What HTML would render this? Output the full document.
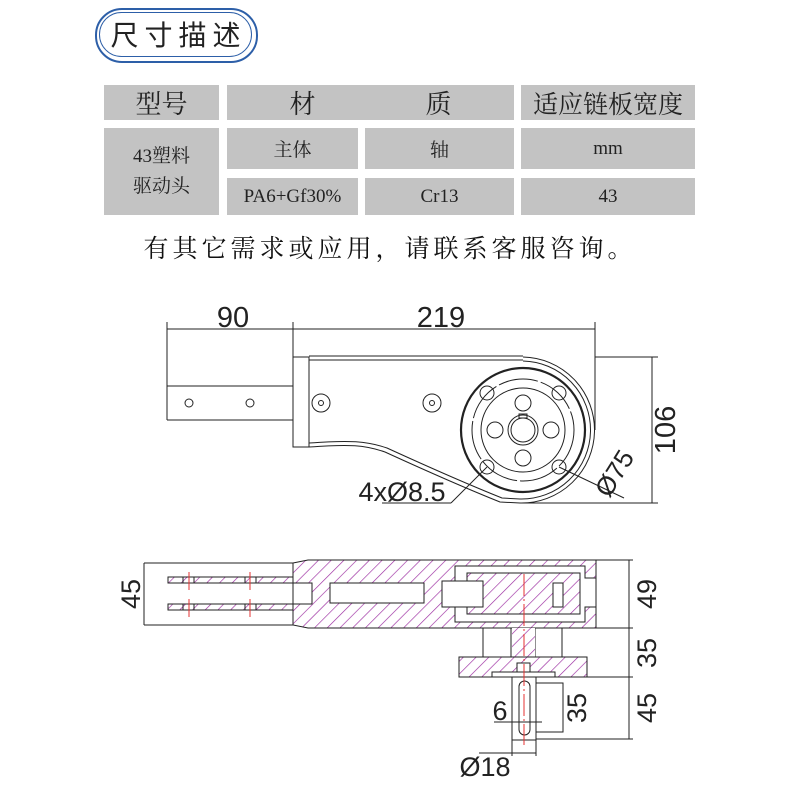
<!DOCTYPE html>
<html><head><meta charset="utf-8"><style>
html,body{margin:0;padding:0;background:#fff;}
body{width:790px;height:803px;position:relative;overflow:hidden;font-family:"Liberation Serif","Noto Serif CJK SC",serif;}
.badge{position:absolute;left:95px;top:8px;width:159px;height:51px;border:2px solid #2d5fa8;border-radius:27px;}
.badge2{position:absolute;left:99px;top:12px;width:151px;height:43px;border:1.5px solid #2d5fa8;border-radius:23px;}
.bt{position:absolute;left:97px;top:8px;width:163px;height:55px;line-height:55px;text-align:center;font-family:"Liberation Sans","Noto Sans CJK SC",sans-serif;font-size:28px;letter-spacing:6px;color:#222;}
.c{position:absolute;background:#c3c3c3;color:#222;text-align:center;display:flex;align-items:center;justify-content:center;}
.h{font-size:26px;font-family:"Liberation Serif","Noto Serif CJK SC",serif;}
.d{font-size:19px;}
.s{position:absolute;left:140px;top:229px;width:500px;text-align:center;font-size:25px;color:#111;font-family:"Liberation Serif","Noto Serif CJK SC",serif;letter-spacing:4px;white-space:nowrap;}
svg{position:absolute;left:0;top:0;}
</style></head><body>
<div class="badge"></div><div class="badge2"></div>
<div class="bt">尺寸描述</div>
<div class="c h" style="left:104px;top:85px;width:115px;height:35px;">型号</div>
<div class="c h" style="left:227px;top:85px;width:287px;height:35px;"><span style="margin-right:110px">材</span><span>质</span></div>
<div class="c h" style="left:521px;top:85px;width:174px;height:35px;font-size:25px;">适应链板宽度</div>
<div class="c d" style="left:104px;top:128px;width:115px;height:87px;line-height:30px;">43塑料<br>驱动头</div>
<div class="c d" style="left:227px;top:128px;width:131px;height:41px;">主体</div>
<div class="c d" style="left:365px;top:128px;width:149px;height:41px;">轴</div>
<div class="c d" style="left:521px;top:128px;width:174px;height:41px;">mm</div>
<div class="c d" style="left:227px;top:178px;width:131px;height:37px;">PA6+Gf30%</div>
<div class="c d" style="left:365px;top:178px;width:149px;height:37px;">Cr13</div>
<div class="c d" style="left:521px;top:178px;width:174px;height:37px;">43</div>
<div class="s">有其它需求或应用，请联系客服咨询。</div>

<svg width="790" height="803" viewBox="0 0 790 803" font-family="Liberation Sans, sans-serif">
<defs>
<pattern id="hat" width="9" height="9" patternUnits="userSpaceOnUse" patternTransform="rotate(45)">
<rect width="9" height="9" fill="#fff"/><line x1="0" y1="0" x2="0" y2="9" stroke="#9a2aa0" stroke-width="1.3"/>
</pattern>
</defs>
<g stroke="#222" stroke-width="1" fill="none">
<line x1="167" y1="329" x2="595" y2="329"/>
<line x1="167" y1="322" x2="167" y2="420"/>
<line x1="293" y1="322" x2="293" y2="357"/>
<line x1="595" y1="322" x2="595" y2="430"/>
<line x1="167" y1="386" x2="293" y2="386"/>
<line x1="167" y1="420" x2="293" y2="420"/>
<circle cx="189" cy="403" r="4"/><circle cx="250" cy="403" r="4"/>
<rect x="293" y="357" width="16" height="90"/>
<line x1="309" y1="356" x2="523" y2="356"/>
<line x1="309" y1="360" x2="523" y2="360"/>
<circle cx="321" cy="403" r="9"/><circle cx="321" cy="403" r="2.5"/>
<circle cx="432" cy="403" r="9"/><circle cx="432" cy="403" r="2.5"/>
<path d="M523,357 A73,73 0 1 1 520,503 L500,502 C470,490 420,468 385,452 C365,445 350,444 309,447"/>
<path d="M523,361 A69,69 0 1 1 520,499 L502,498 C472,486 422,464 387,448 C367,441 350,440 309,443"/>
<circle cx="523" cy="430" r="62" stroke-width="2.2"/>
<circle cx="523" cy="430" r="51" stroke-dasharray="40 3"/>
<circle cx="523" cy="430" r="42"/>
<circle cx="523" cy="430" r="15"/><circle cx="523" cy="430" r="12"/>
<rect x="519" y="414" width="8" height="4"/>
<circle cx="487" cy="393" r="7"/><circle cx="559" cy="393" r="7"/>
<circle cx="487" cy="467" r="7"/><circle cx="559" cy="467" r="7"/>
<circle cx="523" cy="403" r="8"/><circle cx="495" cy="430" r="8"/>
<circle cx="551" cy="430" r="8"/><circle cx="523" cy="458" r="8"/>
<line x1="595" y1="357" x2="658" y2="357"/>
<line x1="520" y1="503" x2="658" y2="503"/>
<line x1="652" y1="357" x2="652" y2="503"/>
<line x1="559" y1="467" x2="624" y2="498"/>
<line x1="487" y1="467" x2="451" y2="503"/>
<line x1="451" y1="503" x2="382" y2="503"/>
</g>
<g fill="#222" font-size="29">
<text x="233" y="327" text-anchor="middle">90</text>
<text x="441" y="327" text-anchor="middle">219</text>
<text x="0" y="0" text-anchor="middle" transform="translate(675,430) rotate(-90)">106</text>
<text x="0" y="0" text-anchor="middle" transform="translate(622,478) rotate(-58)" font-size="26">Ø75</text>
<text x="402" y="501" text-anchor="middle" font-size="27">4xØ8.5</text>
</g>

<g stroke="#222" stroke-width="1">
<path fill="url(#hat)" fill-rule="evenodd" d="M293,563 L308,560 L596,560 L596,628 L308,628 L293,625 Z
 M293,583 L312,583 L312,604 L293,604 Z
 M330,583 L424,583 L424,603 L330,603 Z
 M455,566 L585,566 L585,578 L596,578 L596,607 L585,607 L585,622 L455,622 Z"/>
<rect x="168" y="577" width="125" height="6" fill="url(#hat)"/>
<rect x="168" y="604" width="125" height="6" fill="url(#hat)"/>
<path fill="url(#hat)" fill-rule="evenodd" d="M467,573 L580,573 L580,614 L467,614 Z M442,581 L483,581 L483,607 L442,607 Z M553,583 L563,583 L563,607 L553,607 Z"/>
<rect x="442" y="581" width="41" height="26" fill="#fff"/>
<rect x="553" y="583" width="10" height="24" fill="#fff"/>
<line x1="144" y1="563" x2="293" y2="563"/>
<line x1="144" y1="625" x2="293" y2="625"/>
<line x1="144" y1="563" x2="144" y2="625"/>
<line x1="183" y1="577" x2="183" y2="583"/><line x1="194" y1="577" x2="194" y2="583"/>
<line x1="245" y1="577" x2="245" y2="583"/><line x1="256" y1="577" x2="256" y2="583"/>
<line x1="183" y1="604" x2="183" y2="610"/><line x1="194" y1="604" x2="194" y2="610"/>
<line x1="245" y1="604" x2="245" y2="610"/><line x1="256" y1="604" x2="256" y2="610"/>
<rect x="483" y="628" width="79" height="29" fill="#fff"/>
<line x1="511" y1="628" x2="511" y2="657"/><line x1="535" y1="628" x2="535" y2="657"/>
<rect x="512" y="628" width="23" height="29" fill="url(#hat)" stroke="none"/>
<path fill="url(#hat)" fill-rule="evenodd" d="M459,657 L587,657 L587,677 L459,677 Z M492,672 L555,672 L555,677 L492,677 Z"/>
<rect x="517" y="663" width="13" height="9" fill="#fff"/>
<rect x="512" y="677" width="24" height="63" fill="#fff"/>
<rect x="519" y="681" width="11" height="54" rx="5.5" fill="#fff"/>
<rect x="536" y="683" width="27" height="49" fill="none"/>
<g fill="none">
<line x1="596" y1="560" x2="633" y2="560"/>
<line x1="596" y1="628" x2="633" y2="628"/>
<line x1="587" y1="677" x2="633" y2="677"/>
<line x1="536" y1="739" x2="633" y2="739"/>
<line x1="629" y1="560" x2="629" y2="739"/>
<line x1="494" y1="722" x2="542" y2="722"/>
<line x1="512" y1="740" x2="512" y2="756"/>
<line x1="536" y1="740" x2="536" y2="756"/>
<line x1="479" y1="753" x2="536" y2="753"/>
</g>
</g>
<g stroke="#e53030" stroke-width="1">
<line x1="524" y1="574" x2="524" y2="745" stroke-dasharray="22 3 2 3"/>
<line x1="189" y1="572" x2="189" y2="590"/><line x1="189" y1="599" x2="189" y2="617"/>
<line x1="250" y1="572" x2="250" y2="590"/><line x1="250" y1="599" x2="250" y2="617"/>
</g>
<g fill="#222" font-size="27">
<text transform="translate(140,594) rotate(-90)" text-anchor="middle">45</text>
<text transform="translate(656,594) rotate(-90)" text-anchor="middle">49</text>
<text transform="translate(656,653) rotate(-90)" text-anchor="middle">35</text>
<text transform="translate(656,708) rotate(-90)" text-anchor="middle">45</text>
<text transform="translate(586,708) rotate(-90)" text-anchor="middle">35</text>
<text x="500" y="720" text-anchor="middle">6</text>
<text x="485" y="776" text-anchor="middle">Ø18</text>
</g>
</svg>
</body></html>
